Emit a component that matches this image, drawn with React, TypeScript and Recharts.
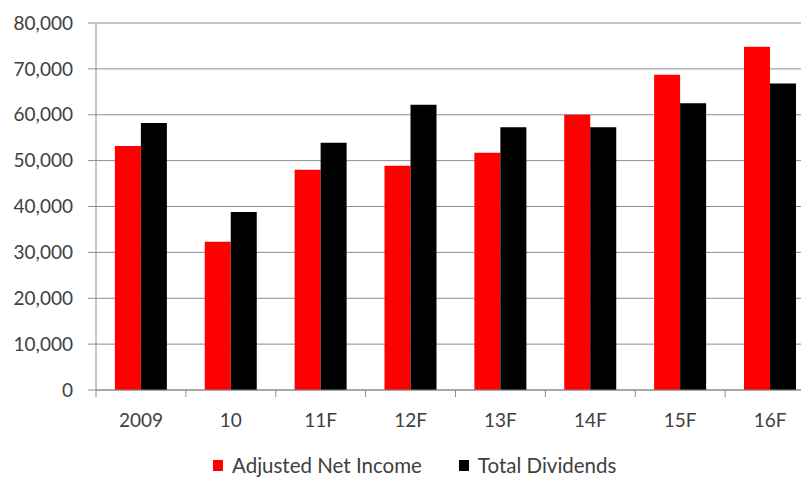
import React from "react";
import { BarChart, Bar, XAxis, YAxis, CartesianGrid } from "recharts";

const years = ["2009", "10", "11F", "12F", "13F", "14F", "15F", "16F"];
const adjustedNetIncome = [53200, 32300, 48000, 48900, 51700, 60000, 68700, 74800];
const totalDividends = [58200, 38800, 53900, 62200, 57300, 57300, 62500, 66800];
const yTicks = [0, 10000, 20000, 30000, 40000, 50000, 60000, 70000, 80000];

const data = years.map((year, i) => ({
  year,
  income: adjustedNetIncome[i],
  dividends: totalDividends[i],
}));

const FONT = "Lato, 'Open Sans', sans-serif";
const TEXT = "#404040";
const GRID = "#8c8c8c";

// plot runs past the right edge of the frame, like the clipped original
const CHART_W = 820;
const CHART_H = 479;
const Y_AXIS_W = 96;
const MARGIN = { top: 23, right: 5, left: 0, bottom: 29 };
const HALF_BAND = (CHART_W - MARGIN.right - Y_AXIS_W) / years.length / 2;

function YearTick(props: any) {
  const { x, y, payload } = props;
  const edge = x - HALF_BAND;
  return (
    <g>
      <line x1={edge} x2={edge} y1={y} y2={y + 7} stroke={GRID} />
      <text
        x={x}
        y={y + 30}
        dy="0.35em"
        textAnchor="middle"
        fill={TEXT}
        fontSize={19}
        fontFamily={FONT}
      >
        {payload.value}
      </text>
    </g>
  );
}

function LegendKey({ color, label, gapAfter }: { color: string; label: string; gapAfter: number }) {
  return (
    <div style={{ display: "flex", alignItems: "center", marginRight: gapAfter }}>
      <span style={{ width: 10, height: 11, background: color, marginRight: 9 }} />
      <span>{label}</span>
    </div>
  );
}

export default function App() {
  return (
    <div
      style={{
        position: "fixed",
        left: 0,
        top: 0,
        width: 801,
        height: 479,
        overflow: "hidden",
        background: "#fff",
      }}
    >
      <BarChart
        width={CHART_W}
        height={CHART_H}
        data={data}
        margin={MARGIN}
        barCategoryGap="21%"
        barGap={0}
      >
        <CartesianGrid vertical={false} stroke={GRID} />
        <YAxis
          width={Y_AXIS_W}
          domain={[0, 80000]}
          ticks={yTicks}
          interval={0}
          tickFormatter={(v: number) => v.toLocaleString("en-US")}
          axisLine={{ stroke: GRID }}
          tickLine={{ stroke: GRID }}
          tickSize={8}
          tickMargin={15}
          tick={{ fill: TEXT, fontSize: 19, fontFamily: FONT }}
        />
        <XAxis
          dataKey="year"
          height={60}
          interval={0}
          axisLine={{ stroke: GRID }}
          tickLine={false}
          tickSize={0}
          tickMargin={0}
          tick={<YearTick />}
        />
        <Bar dataKey="income" name="Adjusted Net Income" fill="#ff0000" isAnimationActive={false} />
        <Bar dataKey="dividends" name="Total Dividends" fill="#000000" isAnimationActive={false} />
      </BarChart>
      <div
        style={{
          position: "absolute",
          left: 213,
          top: 453,
          height: 24,
          display: "flex",
          alignItems: "center",
          fontFamily: FONT,
          fontSize: 20.5,
          lineHeight: "24px",
          color: TEXT,
          whiteSpace: "nowrap",
        }}
      >
        <LegendKey color="#ff0000" label="Adjusted Net Income" gapAfter={37} />
        <LegendKey color="#000000" label="Total Dividends" gapAfter={0} />
      </div>
    </div>
  );
}
